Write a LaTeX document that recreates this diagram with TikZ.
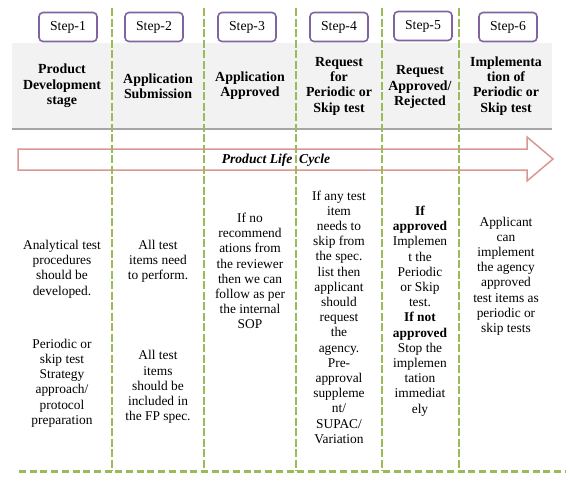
\documentclass[tikz,border=0pt]{standalone}
\usepackage{fontspec}
\setmainfont{Liberation Serif}
\usetikzlibrary{positioning}

\definecolor{stepviolet}{HTML}{8064A2}
\definecolor{lifered}{HTML}{D99694}
\definecolor{dashgreen}{HTML}{9BBB59}
\definecolor{bandgrey}{HTML}{F2F2F2}
\definecolor{bandline}{HTML}{A6A6A6}

\begin{document}
\begin{tikzpicture}[
    x=1pt, y=-1pt,
    stepbox/.style={
        draw=stepviolet,
        line width=1.6pt,
        rounded corners=4pt,
        fill=white,
        minimum width=58pt,
        minimum height=29pt,
        font=\fontsize{13.7}{15}\selectfont
    },
    head/.style={align=center, font=\fontsize{13.9}{15.3}\selectfont\bfseries},
    body/.style={align=center, font=\fontsize{13.4}{15.2}\selectfont},
    divider/.style={draw=dashgreen, line width=1.6pt, dash pattern=on 8pt off 2.5pt},
    baseline/.style={draw=dashgreen, line width=3pt, dash pattern=on 7pt off 3.7pt}
]

\useasboundingbox (0,0) rectangle (576,485);

% header band
\fill[bandgrey] (12,43) rectangle (552,129);
\draw[bandline, line width=1.5pt] (12,129) -- (552,129);

% life cycle arrow
\draw[lifered, line width=1.5pt]
    (18,149) -- (527,149) -- (527,137) -- (553,159)
    -- (527,181) -- (527,170) -- (18,170) -- cycle;
\node (life) at (276,160) {\fontsize{13.6}{15}\selectfont\bfseries\itshape Product Life\ \ Cycle};

% column dividers
\foreach \x in {112,204,296,382,459}
    \draw[divider] (\x,8) -- (\x,471);
\draw[baseline] (19,471) -- (566,471);

% steps
\node[stepbox] (step1) at (68,27) {Step-1};
\node[stepbox] (step2) at (154,27) {Step-2};
\node[stepbox] (step3) at (247,27) {Step-3};
\node[stepbox] (step4) at (339,27) {Step-4};
\node[stepbox] (step5) at (423,26) {Step-5};
\node[stepbox] (step6) at (508,27) {Step-6};

% stage titles
\node[head] (stage1) at (62,86) {Product\\Development\\stage};
\node[head] (stage2) at (158,86) {Application\\Submission};
\node[head] (stage3) at (250,86) {Application\\Approved};
\node[head] (stage4) at (339,86) {Request\\for\\Periodic or\\Skip test};
\node[head] (stage5) at (420,87) {Request\\Approved/\\Rejected};
\node[head] (stage6) at (506,86) {Implementa\\tion of\\Periodic or\\Skip test};

% details
\node[body] (info1a) at (62,269) {Analytical test\\procedures\\should be\\developed.};
\node[body] (info1b) at (62,383) {Periodic or\\skip test\\Strategy\\approach/\\protocol\\preparation};
\node[body] (info2a) at (158,261) {All test\\items need\\to perform.};
\node[body] (info2b) at (158,387) {All test\\items\\should be\\included in\\the FP spec.};
\node[body] (info3) at (250,271) {If no\\recommend\\ations from\\the reviewer\\then we can\\follow as per\\the internal\\SOP};
\node[body] (info4) at (339,317) {If any test\\item\\needs to\\skip from\\the spec.\\list then\\applicant\\should\\request\\the\\agency.\\Pre-\\approval\\suppleme\\nt/\\SUPAC/\\Variation};
\node[body] (info5) at (420,311) {\textbf{If}\\\textbf{approved}\\Implemen\\t the\\Periodic\\or Skip\\test.\\\textbf{If not}\\\textbf{approved}\\Stop the\\implemen\\tation\\immediat\\ely};
\node[body] (info6) at (506,276) {Applicant\\can\\implement\\the agency\\approved\\test items as\\periodic or\\skip tests};

\end{tikzpicture}
\end{document}
